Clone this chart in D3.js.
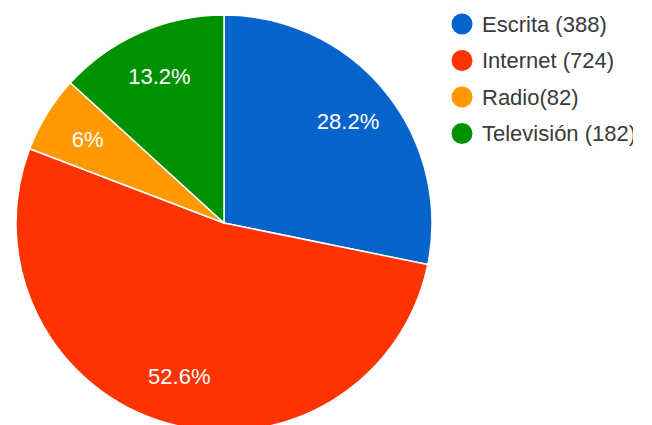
<!DOCTYPE html>
<html>
<head>
<meta charset="utf-8">
<script src="https://cdn.jsdelivr.net/npm/d3@7"></script>
<style>
  body { margin: 0; background: #fff; }
  svg { display: block; font-family: "Liberation Sans", Arial, sans-serif; }
</style>
</head>
<body>
<div id="chart"></div>
<script>
// data
const categories = ["Escrita", "Internet", "Radio", "Televisión"];
const values = [388, 724, 82, 182];
const legendLabels = ["Escrita (388)", "Internet (724)", "Radio(82)", "Televisión (182)"];
const colors = ["#0563cc", "#ff3300", "#ff9900", "#009100"];

const width = 652;
const height = 425;
const cx = 224, cy = 223, radius = 208;

const svg = d3.select("#chart")
    .append("svg")
    .attr("width", width)
    .attr("height", height);

// the reference is cropped on the right
svg.append("clipPath")
    .attr("id", "crop")
    .append("rect")
    .attr("width", 633)
    .attr("height", height);

const root = svg.append("g").attr("clip-path", "url(#crop)");

const pie = d3.pie().sort(null).value(d => d.value);
const data = categories.map((c, i) => ({ name: c, value: values[i], color: colors[i] }));
const arcs = pie(data);
const total = d3.sum(values);

const arc = d3.arc().innerRadius(0).outerRadius(radius);
const labelArc = d3.arc().innerRadius(radius * 0.77).outerRadius(radius * 0.77);

const g = root.append("g").attr("transform", `translate(${cx},${cy})`);

g.selectAll("path")
    .data(arcs)
    .enter().append("path")
    .attr("d", arc)
    .attr("fill", d => d.data.color)
    .attr("stroke", "white")
    .attr("stroke-width", 1.5);

const fmt = v => {
    const p = Math.round(v / total * 1000) / 10;
    return (p % 1 === 0 ? p.toFixed(0) : p.toFixed(1)) + "%";
};

g.selectAll(".label")
    .data(arcs)
    .enter().append("text")
    .attr("class", "label")
    .attr("transform", d => `translate(${labelArc.centroid(d)})`)
    .attr("dy", "0.35em")
    .attr("text-anchor", "middle")
    .attr("font-size", "22px")
    .attr("fill", "white")
    .text(d => fmt(d.data.value));

// legend
const legend = root.append("g").attr("transform", "translate(462,24)");
const row = legend.selectAll("g")
    .data(data)
    .enter().append("g")
    .attr("transform", (d, i) => `translate(0,${i * 36.5})`);

row.append("circle")
    .attr("r", 10.5)
    .attr("fill", d => d.color);

row.append("text")
    .attr("x", 20)
    .attr("dy", "0.35em")
    .attr("font-size", "22px")
    .attr("fill", "#3a3a3a")
    .text((d, i) => legendLabels[i]);
</script>
</body>
</html>
